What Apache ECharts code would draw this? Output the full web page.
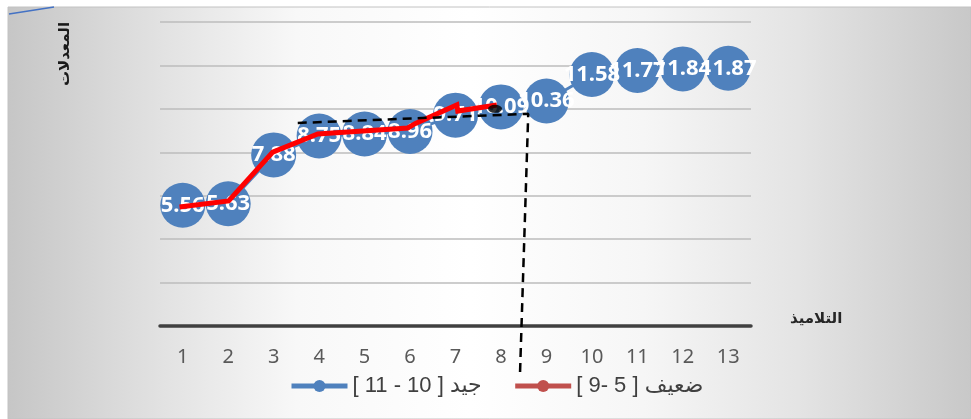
<!DOCTYPE html>
<html>
<head>
<meta charset="utf-8">
<script src="https://cdn.jsdelivr.net/npm/echarts@6/dist/echarts.min.js"></script>
<style>
  html, body { margin: 0; padding: 0; background: #ffffff; }
  #chart { width: 971px; height: 419px; }
</style>
</head>
<body>
<div id="chart"></div>
<script>
// Students (category axis) and their averages
const students = ['1', '2', '3', '4', '5', '6', '7', '8', '9', '10', '11', '12', '13'];
const averages = [5.56, 5.63, 7.88, 8.75, 8.84, 8.96, 9.71, 10.09, 10.36, 11.58, 11.77, 11.84, 11.87];

// Hand-traced red trend over the weaker group (positions in student units)
const trendX = [0.93, 2.01, 2.98, 3.97, 4.96, 5.95, 6.12, 7.03, 7.05, 7.91];
const trendY = [5.48, 5.76, 8.01, 8.84, 8.98, 9.12, 9.33, 10.18, 9.90, 10.18];

// Dashed guide: horizontal threshold then a drop between students 8 and 9
const guideX = [3.53, 8.60, 8.42];
const guideY = [9.35, 9.77, -2.12];

// Black end mark on the red trend
const endMarkX = [7.87];
const endMarkY = [10.0];

// Value axis ticks
const yMin = 0, yMax = 14, yStep = 2;

// Legend names (Arabic reading order)
const goodName = 'جيد [ 10 - 11 ]';
const weakName = 'ضعيف [ 5 -9 ]';
const yTitle = 'المعدلات';
const xTitle = 'التلاميذ';

const zip = (xs, ys) => xs.map((x, i) => [x, ys[i]]);

const chart = echarts.init(document.getElementById('chart'), null, { renderer: 'canvas' });

chart.setOption({
  animation: false,
  textStyle: { fontFamily: '"Noto Sans", "DejaVu Sans", sans-serif' },
  graphic: [
    {
      type: 'rect', z: -100, silent: true,
      shape: { x: 8, y: 7, width: 963, height: 412 },
      style: {
        fill: new echarts.graphic.LinearGradient(0, 0, 1, 0, [
          { offset: 0, color: '#c6c6c6' },
          { offset: 0.16, color: '#e2e2e2' },
          { offset: 0.3, color: '#f8f8f8' },
          { offset: 0.48, color: '#ffffff' },
          { offset: 0.66, color: '#f6f6f6' },
          { offset: 0.82, color: '#e4e4e4' },
          { offset: 1, color: '#c8c8c8' }
        ]),
        stroke: '#c2c2c2', lineWidth: 1
      }
    },
    {
      type: 'line', z: 10, silent: true,
      shape: { x1: 9, y1: 14, x2: 54, y2: 7 },
      style: { stroke: '#4472c4', lineWidth: 1.5 }
    },
    {
      type: 'text', z: 10, silent: true,
      x: 65, y: 54, rotation: Math.PI / 2,
      style: {
        text: yTitle, fill: '#1a1a1a', fontSize: 15, fontWeight: 'bold',
        fontFamily: '"DejaVu Sans", sans-serif', align: 'center', verticalAlign: 'middle'
      }
    }
  ],
  legend: {
    left: 284, top: 370,
    itemWidth: 56, itemHeight: 15, itemGap: 31,
    textStyle: { fontSize: 22, color: '#404040', fontFamily: '"Liberation Sans", "DejaVu Sans", sans-serif' },
    data: [
      { name: goodName, itemStyle: { color: '#4f81bd' }, lineStyle: { color: '#4f81bd', width: 5 } },
      { name: weakName, itemStyle: { color: '#c0504d' }, lineStyle: { color: '#c0504d', width: 5 } }
    ]
  },
  grid: { left: 160, right: 220, top: 22, bottom: 93 },
  xAxis: [
    {
      type: 'category', data: students, boundaryGap: true,
      name: xTitle, nameLocation: 'end', nameGap: 39,
      nameTextStyle: {
        fontSize: 15, fontWeight: 'bold', color: '#262626',
        verticalAlign: 'bottom', lineHeight: 14,
        fontFamily: '"DejaVu Sans", sans-serif'
      },
      axisLine: { lineStyle: { color: '#404040', width: 3.5 } },
      axisTick: { show: false },
      axisLabel: { fontSize: 20, color: '#595959', margin: 21 }
    },
    {
      type: 'value', show: false, min: 0.5, max: 13.5
    }
  ],
  yAxis: {
    type: 'value', min: yMin, max: yMax, interval: yStep,
    axisLine: { show: false }, axisTick: { show: false }, axisLabel: { show: false },
    splitLine: { lineStyle: { color: '#bdbdbd', width: 1.5 } }
  },
  series: [
    {
      name: goodName, type: 'line', z: 2,
      data: averages,
      symbol: 'circle', symbolSize: 45,
      itemStyle: { color: '#4f81bd' },
      lineStyle: { color: '#4f81bd', width: 3 },
      label: {
        show: true, position: 'inside', color: '#ffffff',
        fontSize: 22, fontWeight: 'bold'
      }
    },
    {
      name: weakName, type: 'line', z: 3, xAxisIndex: 1,
      data: zip(trendX, trendY),
      symbol: 'circle', showSymbol: false,
      itemStyle: { color: '#c0504d' },
      lineStyle: { color: '#ff0000', width: 5, cap: 'butt', join: 'miter' }
    },
    {
      name: 'guide', type: 'line', z: 4, xAxisIndex: 1, clip: false,
      data: zip(guideX, guideY),
      symbol: 'none',
      lineStyle: { color: '#000000', width: 2.5, type: [9, 6] }
    },
    {
      name: 'end', type: 'scatter', z: 5, xAxisIndex: 1,
      data: zip(endMarkX, endMarkY),
      symbol: 'circle', symbolSize: [14, 8],
      itemStyle: { color: '#000000' }
    }
  ]
});
</script>
</body>
</html>
